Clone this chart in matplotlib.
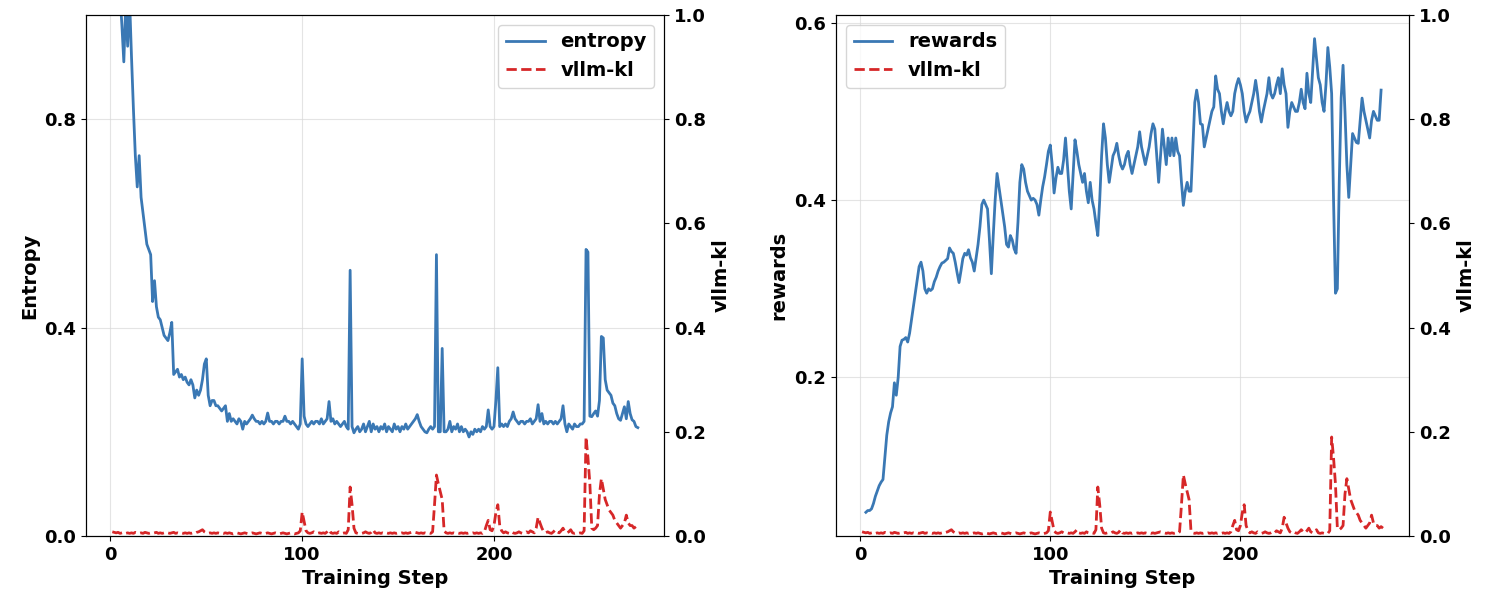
import numpy as np
import matplotlib
matplotlib.use("Agg")
import matplotlib.pyplot as plt

plt.rcParams['font.family'] = 'DejaVu Sans'
plt.rcParams['font.weight'] = 'bold'

# entropy per training step, starting at step 1
entropy = [
    1.30, 1.20, 1.12, 1.08, 1.04, 0.98, 0.91, 1.02, 0.94, 1.03,
    0.92, 0.82, 0.73, 0.67, 0.73, 0.65, 0.62, 0.59, 0.56, 0.55,
    0.54, 0.45, 0.49, 0.44, 0.42, 0.415, 0.40, 0.385, 0.38, 0.375,
    0.39, 0.41, 0.31, 0.315, 0.32, 0.305, 0.31, 0.30, 0.305, 0.295,
    0.29, 0.30, 0.29, 0.265, 0.28, 0.27, 0.28, 0.30, 0.33, 0.34,
    0.27, 0.25, 0.26, 0.26, 0.25, 0.25, 0.245, 0.24, 0.245, 0.25,
    0.22, 0.235, 0.22, 0.225, 0.22, 0.215, 0.225, 0.22, 0.205, 0.22,
    0.215, 0.22, 0.225, 0.232, 0.225, 0.22, 0.22, 0.215, 0.22, 0.215,
    0.22, 0.236, 0.22, 0.22, 0.215, 0.22, 0.22, 0.215, 0.22, 0.22,
    0.23, 0.22, 0.22, 0.215, 0.22, 0.215, 0.21, 0.205, 0.215, 0.34,
    0.23, 0.215, 0.21, 0.215, 0.22, 0.215, 0.22, 0.22, 0.215, 0.225,
    0.215, 0.22, 0.225, 0.258, 0.22, 0.225, 0.215, 0.22, 0.215, 0.21,
    0.215, 0.22, 0.21, 0.205, 0.51, 0.21, 0.198, 0.205, 0.21, 0.20,
    0.205, 0.215, 0.20, 0.21, 0.22, 0.20, 0.215, 0.205, 0.21, 0.20,
    0.21, 0.205, 0.215, 0.20, 0.21, 0.205, 0.20, 0.215, 0.205, 0.21,
    0.20, 0.21, 0.205, 0.215, 0.205, 0.21, 0.215, 0.22, 0.225, 0.233,
    0.22, 0.21, 0.205, 0.20, 0.198, 0.205, 0.21, 0.205, 0.21, 0.54,
    0.20, 0.20, 0.36, 0.20, 0.20, 0.205, 0.22, 0.20, 0.21, 0.205,
    0.215, 0.20, 0.21, 0.20, 0.205, 0.20, 0.19, 0.20, 0.195, 0.205,
    0.20, 0.205, 0.20, 0.21, 0.205, 0.21, 0.242, 0.21, 0.205, 0.21,
    0.26, 0.323, 0.21, 0.215, 0.21, 0.215, 0.21, 0.22, 0.225, 0.238,
    0.225, 0.22, 0.215, 0.22, 0.22, 0.215, 0.22, 0.22, 0.225, 0.215,
    0.22, 0.225, 0.252, 0.22, 0.235, 0.215, 0.22, 0.215, 0.22, 0.22,
    0.215, 0.22, 0.215, 0.22, 0.225, 0.25, 0.215, 0.20, 0.215, 0.21,
    0.205, 0.215, 0.21, 0.21, 0.215, 0.215, 0.22, 0.55, 0.545, 0.23,
    0.229, 0.235, 0.24, 0.23, 0.26, 0.383, 0.38, 0.30, 0.28, 0.275,
    0.27, 0.255, 0.25, 0.235, 0.225, 0.222, 0.235, 0.248, 0.225, 0.258,
    0.235, 0.223, 0.22, 0.21, 0.208,
]

# vllm-kl per training step, starting at step 1 (same in both panels)
vllm_kl = [
    0.008, 0.007, 0.006, 0.007, 0.005, 0.006, 0.007, 0.005, 0.006, 0.005,
    0.006, 0.005, 0.007, 0.006, 0.005, 0.006, 0.005, 0.007, 0.006, 0.005,
    0.006, 0.005, 0.006, 0.007, 0.005, 0.006, 0.005, 0.006, 0.005, 0.006,
    0.005, 0.006, 0.007, 0.005, 0.006, 0.005, 0.006, 0.005, 0.006, 0.005,
    0.006, 0.005, 0.006, 0.005, 0.007, 0.008, 0.010, 0.012, 0.008, 0.006,
    0.005, 0.006, 0.005, 0.006, 0.005, 0.006, 0.005, 0.006, 0.005, 0.006,
    0.005, 0.006, 0.005, 0.004, 0.005, 0.006, 0.005, 0.004, 0.005, 0.006,
    0.005, 0.004, 0.005, 0.006, 0.005, 0.004, 0.005, 0.006, 0.005, 0.004,
    0.005, 0.006, 0.005, 0.004, 0.005, 0.006, 0.005, 0.004, 0.005, 0.006,
    0.005, 0.004, 0.005, 0.006, 0.005, 0.004, 0.005, 0.006, 0.010, 0.046,
    0.028, 0.010, 0.006, 0.005, 0.006, 0.008, 0.006, 0.005, 0.006, 0.005,
    0.006, 0.005, 0.008, 0.012, 0.006, 0.005, 0.006, 0.005, 0.008, 0.006,
    0.005, 0.006, 0.005, 0.012, 0.094, 0.060, 0.015, 0.006, 0.005, 0.006,
    0.005, 0.006, 0.008, 0.006, 0.005, 0.007, 0.012, 0.006, 0.005, 0.006,
    0.005, 0.006, 0.005, 0.006, 0.005, 0.006, 0.005, 0.006, 0.005, 0.006,
    0.005, 0.006, 0.005, 0.006, 0.005, 0.006, 0.007, 0.008, 0.007, 0.006,
    0.005, 0.006, 0.005, 0.006, 0.005, 0.006, 0.005, 0.008, 0.060, 0.117,
    0.100, 0.085, 0.070, 0.010, 0.006, 0.005, 0.006, 0.005, 0.006, 0.005,
    0.006, 0.005, 0.006, 0.005, 0.006, 0.005, 0.006, 0.005, 0.006, 0.005,
    0.006, 0.005, 0.006, 0.005, 0.008, 0.020, 0.030, 0.012, 0.010, 0.020,
    0.045, 0.060, 0.020, 0.010, 0.006, 0.008, 0.006, 0.005, 0.008, 0.006,
    0.005, 0.006, 0.008, 0.006, 0.005, 0.006, 0.008, 0.006, 0.010, 0.008,
    0.006, 0.015, 0.036, 0.025, 0.015, 0.008, 0.006, 0.008, 0.006, 0.005,
    0.008, 0.012, 0.008, 0.006, 0.010, 0.015, 0.008, 0.006, 0.008, 0.012,
    0.006, 0.005, 0.006, 0.005, 0.006, 0.005, 0.010, 0.190, 0.150, 0.100,
    0.015, 0.012, 0.015, 0.020, 0.080, 0.110, 0.090, 0.070, 0.060, 0.050,
    0.045, 0.040, 0.030, 0.025, 0.020, 0.015, 0.020, 0.025, 0.040, 0.025,
    0.020, 0.020, 0.015, 0.018, 0.015,
]

# rewards per training step, starting at step 3
rewards = [
    0.048, 0.050, 0.050, 0.052, 0.058, 0.066, 0.072, 0.078, 0.082, 0.085,
    0.11, 0.135, 0.15, 0.16, 0.167, 0.194, 0.18, 0.20, 0.235, 0.242,
    0.243, 0.245, 0.24, 0.25, 0.265, 0.28, 0.295, 0.31, 0.325, 0.33,
    0.32, 0.30, 0.295, 0.30, 0.298, 0.30, 0.308, 0.313, 0.32, 0.325,
    0.329, 0.33, 0.332, 0.334, 0.346, 0.342, 0.34, 0.33, 0.318, 0.307,
    0.32, 0.334, 0.34, 0.338, 0.344, 0.335, 0.33, 0.32, 0.335, 0.35,
    0.37, 0.395, 0.40, 0.395, 0.39, 0.355, 0.317, 0.36, 0.40, 0.43,
    0.415, 0.40, 0.385, 0.37, 0.35, 0.347, 0.36, 0.355, 0.345, 0.34,
    0.375, 0.42, 0.44, 0.435, 0.42, 0.41, 0.405, 0.40, 0.402, 0.40,
    0.395, 0.383, 0.40, 0.415, 0.426, 0.44, 0.455, 0.462, 0.44, 0.408,
    0.425, 0.437, 0.43, 0.43, 0.445, 0.47, 0.44, 0.41, 0.39, 0.43,
    0.468, 0.455, 0.44, 0.43, 0.42, 0.43, 0.41, 0.397, 0.42, 0.40,
    0.39, 0.374, 0.36, 0.40, 0.45, 0.486, 0.47, 0.44, 0.42, 0.435,
    0.45, 0.455, 0.464, 0.45, 0.44, 0.435, 0.44, 0.45, 0.455, 0.44,
    0.43, 0.44, 0.45, 0.46, 0.477, 0.46, 0.45, 0.44, 0.45, 0.46,
    0.475, 0.486, 0.48, 0.45, 0.42, 0.45, 0.48, 0.46, 0.44, 0.47,
    0.45, 0.47, 0.45, 0.47, 0.455, 0.45, 0.42, 0.394, 0.41, 0.42,
    0.41, 0.41, 0.46, 0.51, 0.524, 0.51, 0.486, 0.485, 0.46, 0.47,
    0.48, 0.49, 0.50, 0.505, 0.54, 0.525, 0.52, 0.50, 0.486, 0.50,
    0.51, 0.50, 0.495, 0.50, 0.52, 0.53, 0.537, 0.53, 0.52, 0.50,
    0.488, 0.495, 0.50, 0.51, 0.52, 0.535, 0.52, 0.50, 0.488, 0.50,
    0.51, 0.52, 0.538, 0.52, 0.515, 0.52, 0.53, 0.538, 0.52, 0.548,
    0.53, 0.52, 0.482, 0.50, 0.51, 0.505, 0.50, 0.50, 0.51, 0.525,
    0.51, 0.503, 0.543, 0.52, 0.51, 0.545, 0.582, 0.56, 0.538, 0.53,
    0.51, 0.50, 0.53, 0.572, 0.55, 0.52, 0.40, 0.295, 0.30, 0.42,
    0.515, 0.552, 0.50, 0.44, 0.403, 0.44, 0.475, 0.47, 0.465, 0.464,
    0.49, 0.515, 0.50, 0.49, 0.48, 0.47, 0.49, 0.50, 0.495, 0.49,
    0.49, 0.524,
]

steps = np.arange(1, len(entropy) + 1)
kl_steps = np.arange(1, len(vllm_kl) + 1)
reward_steps = np.arange(3, 3 + len(rewards))

blue = '#3a78b4'
red = '#d62728'

fig = plt.figure(figsize=(14.86, 5.99), dpi=100)
ax1 = fig.add_axes([0.0579, 0.1052, 0.389, 0.8698])
ax2 = fig.add_axes([0.5626, 0.1052, 0.3856, 0.8698])

# left: entropy
l1, = ax1.plot(steps, entropy, color=blue, lw=2, label='entropy')
ax1.set_ylim(0, 1.0)
ax1.set_yticks([0.0, 0.4, 0.8])
ax1.set_xticks([0, 100, 200])
ax1.set_xlabel('Training Step', fontsize=14, fontweight='bold')
ax1.set_ylabel('Entropy', fontsize=14, fontweight='bold')
ax1.grid(True, color='#d9d9d9', alpha=0.7, lw=0.8)
ax1b = ax1.twinx()
l2, = ax1b.plot(kl_steps, vllm_kl, color=red, lw=2, ls='--', label='vllm-kl')
ax1b.set_ylim(0, 1.0)
ax1b.set_ylabel('vllm-kl', fontsize=14, fontweight='bold')
ax1.legend([l1, l2], ['entropy', 'vllm-kl'], loc='upper right',
           prop={'size': 14, 'weight': 'bold'})

# right: rewards
r1, = ax2.plot(reward_steps, rewards, color=blue, lw=2, label='rewards')
ax2.set_yticks([0.2, 0.4, 0.6])
ax2.set_xticks([0, 100, 200])
ax2.set_xlabel('Training Step', fontsize=14, fontweight='bold')
ax2.set_ylabel('rewards', fontsize=14, fontweight='bold')
ax2.grid(True, color='#d9d9d9', alpha=0.7, lw=0.8)
ax2b = ax2.twinx()
r2, = ax2b.plot(kl_steps, vllm_kl, color=red, lw=2, ls='--', label='vllm-kl')
ax2b.set_ylim(0, 1.0)
ax2b.set_ylabel('vllm-kl', fontsize=14, fontweight='bold')
ax2.legend([r1, r2], ['rewards', 'vllm-kl'], loc='upper left',
           prop={'size': 14, 'weight': 'bold'})

for a in (ax1, ax1b, ax2, ax2b):
    a.tick_params(labelsize=13)
    for lab in a.get_xticklabels() + a.get_yticklabels():
        lab.set_fontweight('bold')

fig.savefig('out.png', dpi=100)
